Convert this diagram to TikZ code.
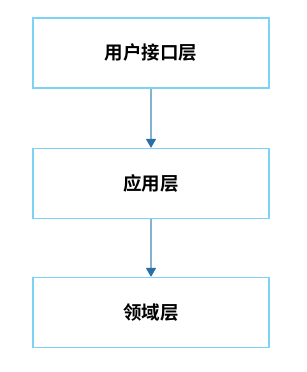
\documentclass[tikz,border=0pt]{standalone}
\usepackage{fontspec}
\newfontfamily\cjk{Noto Sans CJK SC Bold}
\usetikzlibrary{positioning,arrows.meta}
\definecolor{cajaborde}{HTML}{7DD3F5}
\definecolor{flecha}{HTML}{86B2D2}
\definecolor{punta}{HTML}{2B6EA6}
\begin{document}
\begin{tikzpicture}[x=1pt,y=1pt,
			 capa/.style={rectangle, draw=cajaborde, line width=1.2pt, minimum width=236pt, minimum height=70pt, inner sep=0pt, font=\cjk\fontsize{18.5}{21}\selectfont},
			 conector/.style={draw=flecha, line width=1.3pt, -{Triangle[length=9pt,width=10pt,fill=punta,color=punta]}}
  		]
	\useasboundingbox (0,0) rectangle (306,372);

	%Creamos las capas
		\node[capa] (interfaz) at (151, 319) {用户接口层};
		\node[capa] (aplicacion) at (151, 188.5) {应用层};
		\node[capa] (dominio) at (151, 59.5) {领域层};

	%Flechas entre capas
		\draw[conector] (interfaz) -- (aplicacion);
		\draw[conector] (aplicacion) -- (dominio);

	\end{tikzpicture}
\end{document}
